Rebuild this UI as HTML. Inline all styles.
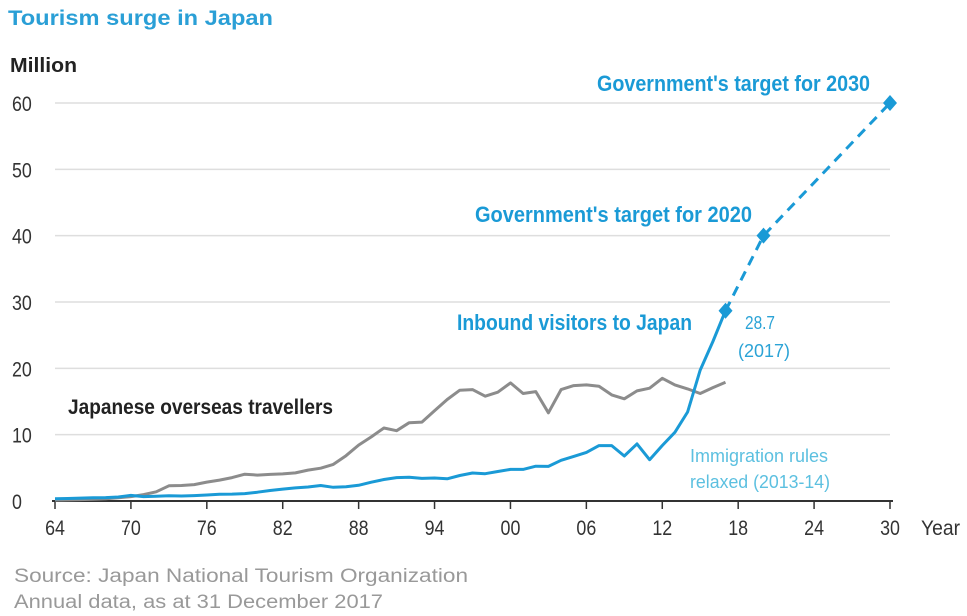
<!DOCTYPE html>
<html><head><meta charset="utf-8"><style>
body{margin:0;background:#fff;}
svg{display:block;font-family:"Liberation Sans Narrow","Liberation Sans",sans-serif;}
</style></head><body>
<svg width="967" height="616" viewBox="0 0 967 616">
<text x="8" y="25" font-size="21" font-weight="bold" fill="#2a9fd6" textLength="265" lengthAdjust="spacingAndGlyphs">Tourism surge in Japan</text>
<text x="10" y="72" font-size="20" font-weight="bold" fill="#222" textLength="67" lengthAdjust="spacingAndGlyphs">Million</text>
<g id="grid"></g>
<g id="yticks"></g>
<g id="xaxis"></g>
<text x="921" y="535" font-size="21" fill="#333" textLength="39" lengthAdjust="spacingAndGlyphs">Year</text>
<g id="series"></g>
<text x="68" y="414" font-size="21" font-weight="bold" fill="#222" textLength="265" lengthAdjust="spacingAndGlyphs">Japanese overseas travellers</text>
<text x="457" y="330" font-size="22" font-weight="bold" fill="#1a9ad6" textLength="235" lengthAdjust="spacingAndGlyphs">Inbound visitors to Japan</text>
<text x="745" y="329" font-size="18" fill="#2ba3d6" textLength="30" lengthAdjust="spacingAndGlyphs">28.7</text>
<text x="738" y="357" font-size="18" fill="#2ba3d6" textLength="52" lengthAdjust="spacingAndGlyphs">(2017)</text>
<text x="690" y="462" font-size="18" fill="#5cc0e0" textLength="138" lengthAdjust="spacingAndGlyphs">Immigration rules</text>
<text x="690" y="488" font-size="18" fill="#5cc0e0" textLength="140" lengthAdjust="spacingAndGlyphs">relaxed (2013-14)</text>
<text x="475" y="222" font-size="22" font-weight="bold" fill="#1a9ad6" textLength="277" lengthAdjust="spacingAndGlyphs">Government's target for 2020</text>
<text x="597" y="91" font-size="22" font-weight="bold" fill="#1a9ad6" textLength="273" lengthAdjust="spacingAndGlyphs">Government's target for 2030</text>
<text x="14" y="582" font-size="19" fill="#999" textLength="454" lengthAdjust="spacingAndGlyphs">Source: Japan National Tourism Organization</text>
<text x="14" y="608" font-size="19" fill="#999" textLength="369" lengthAdjust="spacingAndGlyphs">Annual data, as at 31 December 2017</text>
</svg>
<script>
const years=[];for(let y=1964;y<=2017;y++)years.push(y);
const overseas=[0.13,0.16,0.21,0.27,0.34,0.49,0.66,0.96,1.39,2.29,2.34,2.47,2.85,3.15,3.53,4.04,3.91,4.01,4.09,4.23,4.66,4.95,5.52,6.83,8.43,9.66,11.0,10.6,11.8,11.9,13.6,15.3,16.7,16.8,15.8,16.4,17.8,16.2,16.5,13.3,16.8,17.4,17.5,17.3,16.0,15.4,16.6,17.0,18.5,17.5,16.9,16.2,17.1,17.9];
const inbound=[0.35,0.37,0.43,0.48,0.52,0.61,0.85,0.66,0.72,0.78,0.76,0.81,0.91,1.03,1.04,1.11,1.32,1.58,1.79,1.97,2.11,2.33,2.06,2.15,2.36,2.84,3.24,3.53,3.58,3.41,3.47,3.35,3.84,4.22,4.11,4.44,4.76,4.77,5.24,5.21,6.14,6.73,7.33,8.35,8.35,6.79,8.61,6.22,8.36,10.36,13.41,19.74,24.04,28.69];
const targetYears=[2017,2020,2030];
const targetValues=[28.69,40,60];
const yTicks=[0,10,20,30,40,50,60];
const xTicks=[1964,1970,1976,1982,1988,1994,2000,2006,2012,2018,2024,2030];
const xTickLabels=["64","70","76","82","88","94","00","06","12","18","24","30"];
const NS="http://www.w3.org/2000/svg";
const X=y=>55+(y-1964)*(835/66);
const Y=v=>501-v*(398/60);
function mk(tag,attrs,parent){const e=document.createElementNS(NS,tag);for(const k in attrs)e.setAttribute(k,attrs[k]);parent.appendChild(e);return e;}
const grid=document.getElementById('grid'),yt=document.getElementById('yticks'),xa=document.getElementById('xaxis'),se=document.getElementById('series');
yTicks.forEach(v=>{
 if(v>0){const l=mk('line',{x1:55,x2:890,y1:Y(v),y2:Y(v),stroke:'#dedede','stroke-width':1.5},grid);
 
 }
 const t=mk('text',{x:12,y:Y(v)+8,'font-size':21,fill:'#333',transform:`translate(12 0) scale(0.85 1) translate(-12 0)`},yt);t.textContent=v;
 
 
});
const ax=mk('line',{x1:52,x2:893,y1:Y(0),y2:Y(0),stroke:'#333','stroke-width':2},xa);


xTicks.forEach((y,i)=>{
 const tk=mk('line',{x1:X(y),x2:X(y),y1:Y(0),y2:Y(0)+8,stroke:'#333','stroke-width':1.5},xa);
 
 
 const t=mk('text',{x:X(y),y:Y(0)+34,'font-size':21,fill:'#333','text-anchor':'middle',transform:`translate(${X(y)} 0) scale(0.85 1) translate(${-X(y)} 0)`},xa);t.textContent=xTickLabels[i];
 
 
});
const pts=a=>a.map((v,i)=>X(years[i]).toFixed(1)+','+Y(v).toFixed(1)).join(' ');
const g=mk('polyline',{points:pts(overseas),fill:'none',stroke:'#8c8c8c','stroke-width':3,'stroke-linejoin':'round'},se);


const b=mk('polyline',{points:pts(inbound),fill:'none',stroke:'#1a9ad6','stroke-width':3,'stroke-linejoin':'round'},se);


const d=mk('polyline',{points:targetYears.map((y,i)=>X(y)+','+Y(targetValues[i])).join(' '),fill:'none',stroke:'#1a9ad6','stroke-width':3,'stroke-dasharray':'10,7'},se);


targetYears.forEach((y,i)=>{const cx=X(y),cy=Y(targetValues[i]);
 const p=mk('polygon',{points:`${cx},${cy-8} ${cx+7},${cy} ${cx},${cy+8} ${cx-7},${cy}`,fill:'#1a9ad6'},se);
 
 
});
</script>
</body></html>
